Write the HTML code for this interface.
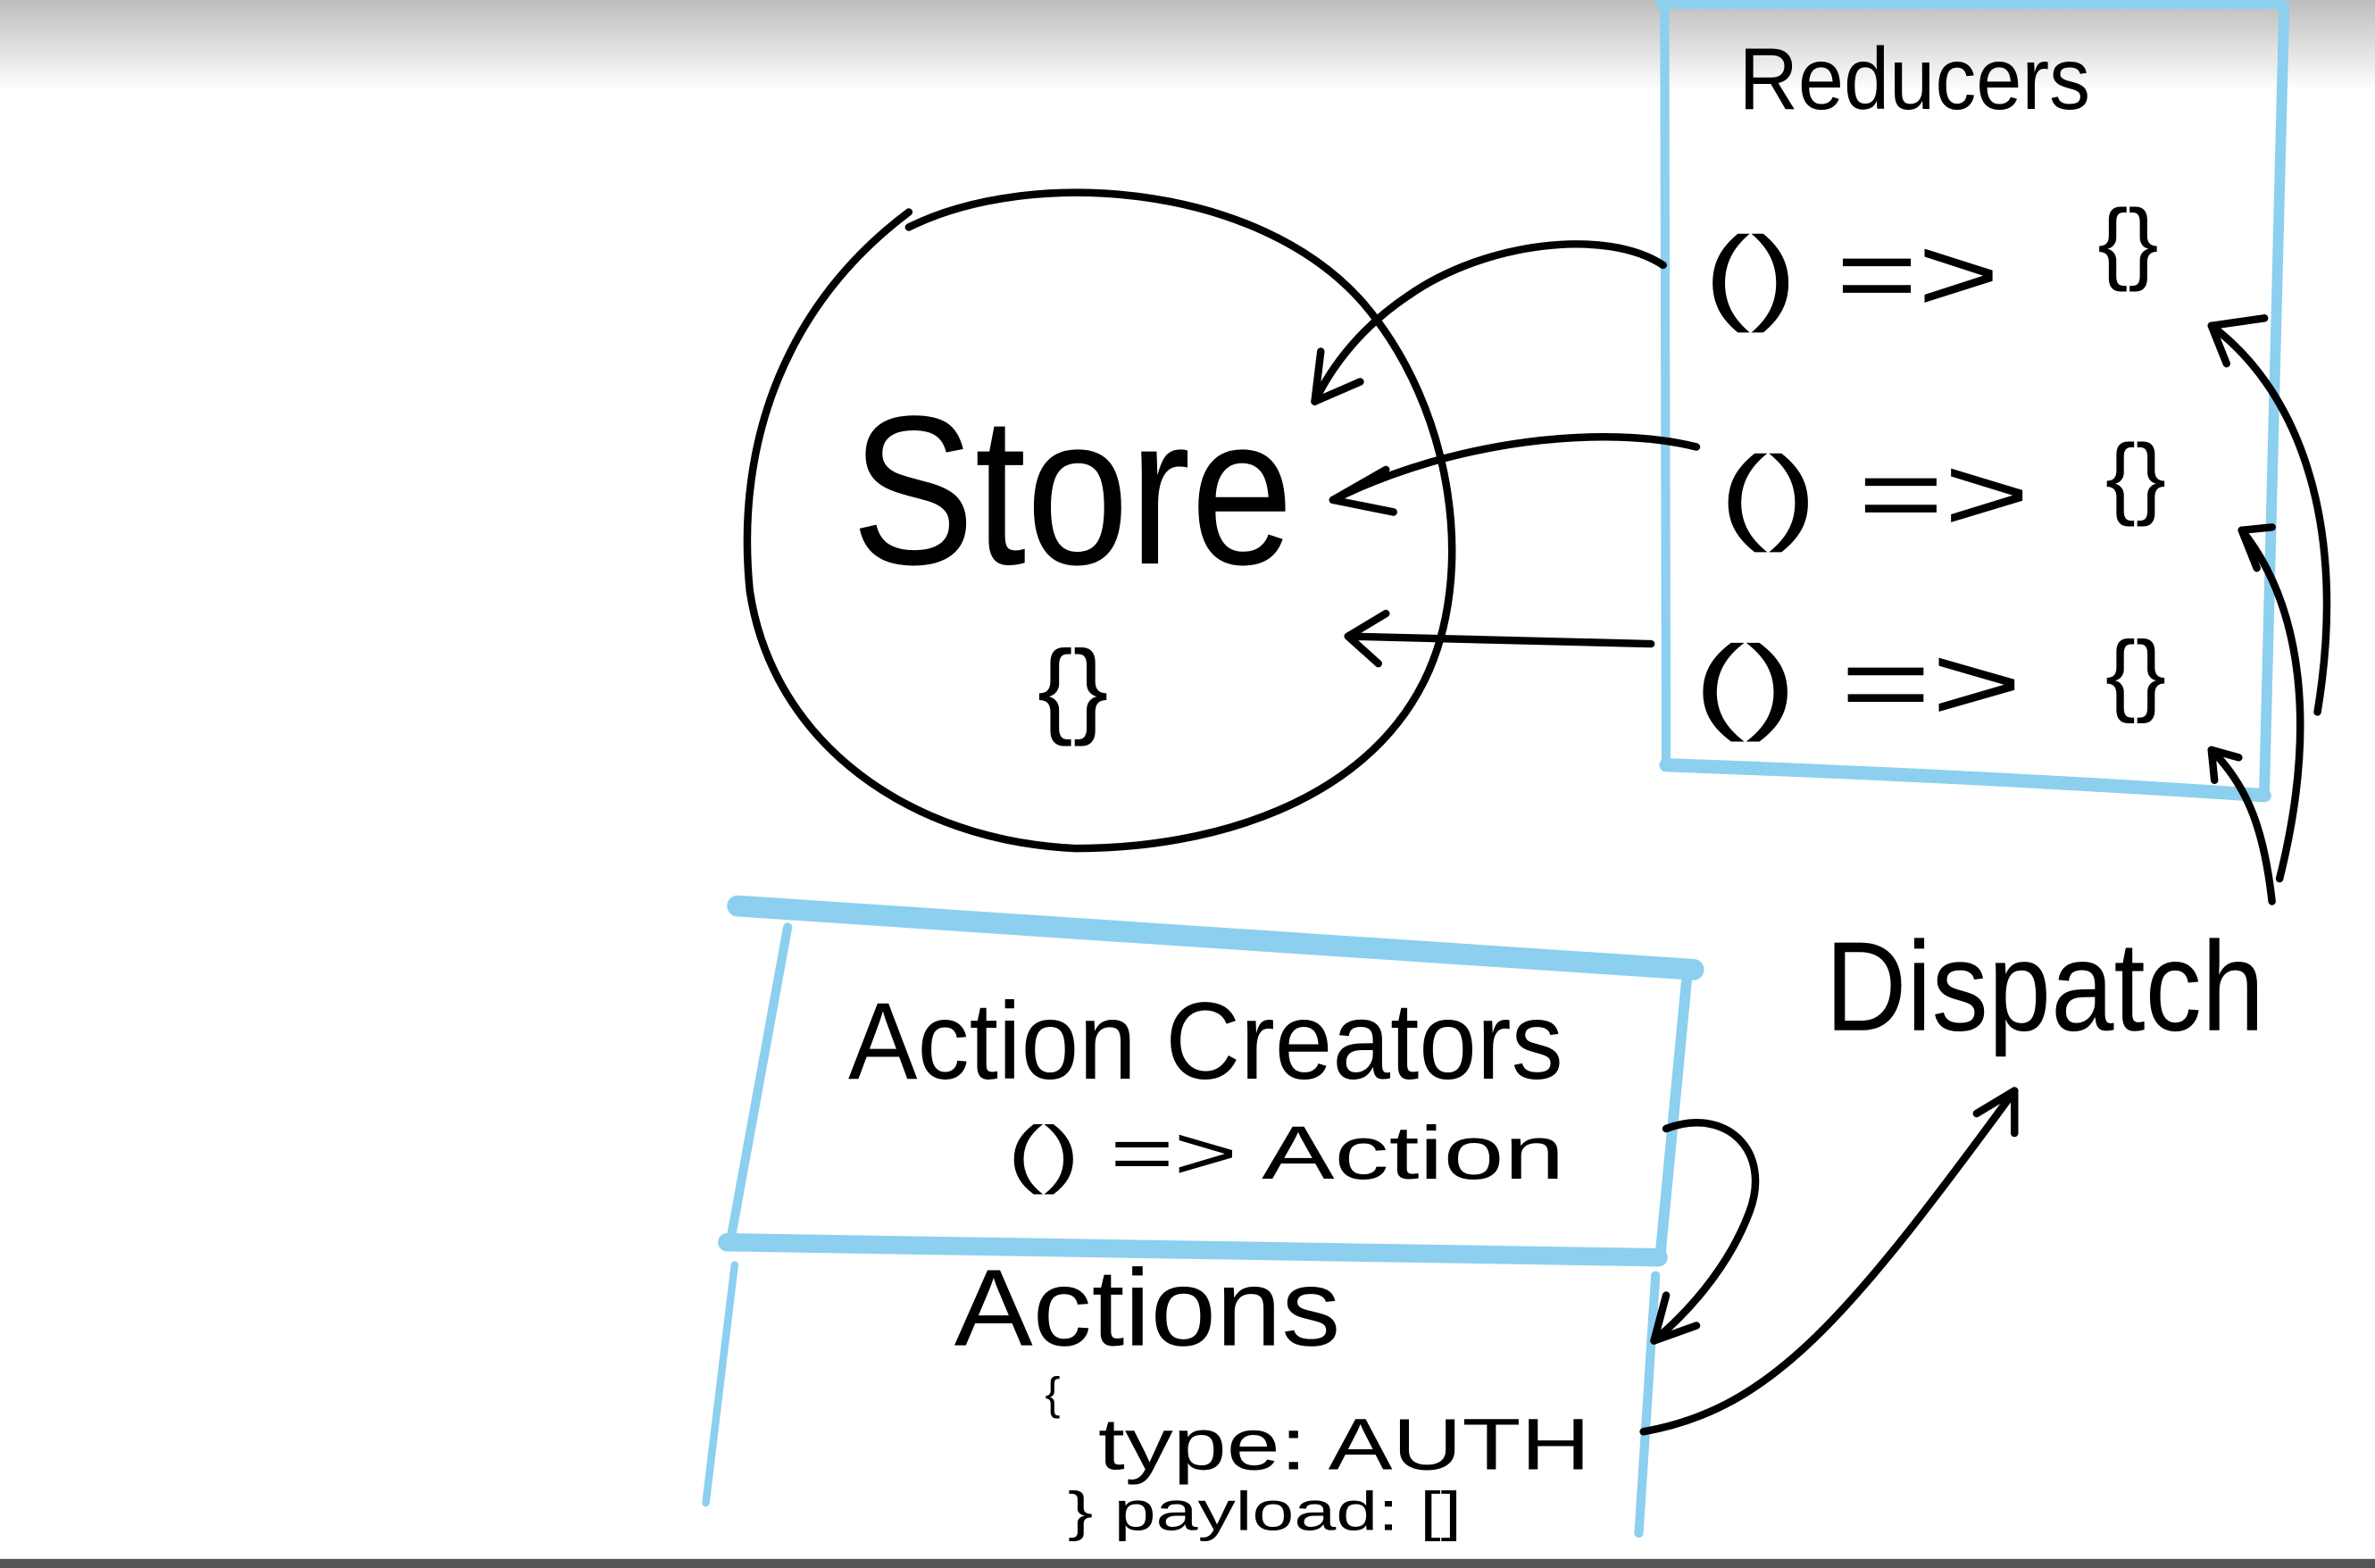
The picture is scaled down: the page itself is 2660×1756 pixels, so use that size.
<!DOCTYPE html>
<html><head><meta charset="utf-8"><style>
html,body{margin:0;padding:0;background:#fff;}
svg{display:block;}
text{font-family:"Liberation Sans",sans-serif;fill:#000;}
</style></head><body>
<svg width="2660" height="1756" viewBox="0 0 1568 1035" preserveAspectRatio="none" xmlns="http://www.w3.org/2000/svg">
<defs>
<linearGradient id="g" x1="0" y1="0" x2="0" y2="1">
<stop offset="0" stop-color="#bdbdbd"/><stop offset="1" stop-color="#ffffff"/>
</linearGradient>
</defs>
<rect width="1568" height="1035" fill="#fff"/>
<rect width="1568" height="60" fill="url(#g)"/>
<rect y="1029" width="1568" height="6" fill="#555"/>

<g fill="none" stroke="#8ccfee" stroke-linecap="round">
<path d="M1097 2 L1505 2" stroke-width="8"/>
<path d="M1099 5 L1100 505" stroke-width="6"/>
<path d="M1508 5 L1495 520" stroke-width="7"/>
<path d="M1100 505 Q1300 512 1495 525" stroke-width="9"/>
<path d="M487 598 L1118 640" stroke-width="14"/>
<path d="M520 612 L483 815" stroke-width="6"/>
<path d="M1114 642 L1096 830" stroke-width="7"/>
<path d="M480 820 L1095 830" stroke-width="12"/>
<path d="M485 835 L466 992" stroke-width="5"/>
<path d="M1093 842 L1082 1012" stroke-width="6"/>
</g>

<g fill="none" stroke="#000" stroke-width="5" stroke-linecap="round">
<path d="M600 150 C680 110 830 120 900 200 C960 270 975 380 940 450 C900 530 800 560 710 560 C600 555 510 490 495 390 C485 290 520 200 600 140"/>
<path d="M1098 175 C1060 150 980 160 930 195 C900 215 880 240 868 265"/>
<path d="M868 265 L872 232 M868 265 L898 252"/>
<path d="M1120 295 C1060 280 960 290 880 330"/>
<path d="M880 330 L915 310 M880 330 L920 338"/>
<path d="M1090 425 L890 420"/>
<path d="M890 420 L915 405 M890 420 L910 438"/>
<path d="M1530 470 C1550 350 1520 260 1460 215"/>
<path d="M1460 215 L1495 210 M1460 215 L1470 240"/>
<path d="M1505 580 C1530 480 1520 400 1480 350"/>
<path d="M1480 350 L1500 348 M1480 350 L1490 375"/>
<path d="M1500 595 C1495 550 1485 520 1460 495"/>
<path d="M1460 495 L1478 500 M1460 495 L1462 515"/>
<path d="M1100 745 C1140 730 1170 760 1155 800 C1140 840 1110 870 1092 885"/>
<path d="M1092 885 L1100 855 M1092 885 L1120 875"/>
<path d="M1085 945 C1170 930 1220 870 1330 720"/>
<path d="M1330 720 L1305 735 M1330 720 L1330 748"/>
</g>

<text x="1148" y="72" font-size="58" textLength="232" lengthAdjust="spacingAndGlyphs">Reducers</text>
<text x="562" y="372" font-size="140" textLength="292" lengthAdjust="spacingAndGlyphs">Store</text>
<text x="685" y="478" font-size="70">{}</text>
<text x="1125" y="205" font-size="70" textLength="195" lengthAdjust="spacingAndGlyphs">() =&gt;</text>
<text x="1385" y="180" font-size="60">{}</text>
<text x="1135" y="350" font-size="70" textLength="205" lengthAdjust="spacingAndGlyphs">() =&gt;</text>
<text x="1390" y="335" font-size="60">{}</text>
<text x="1118" y="475" font-size="70" textLength="217" lengthAdjust="spacingAndGlyphs">() =&gt;</text>
<text x="1390" y="465" font-size="60">{}</text>
<text x="1205" y="680" font-size="84" textLength="290" lengthAdjust="spacingAndGlyphs">Dispatch</text>
<text x="560" y="712" font-size="72" textLength="472" lengthAdjust="spacingAndGlyphs">Action Creators</text>
<text x="665" y="778" font-size="50" textLength="368" lengthAdjust="spacingAndGlyphs">() =&gt; Action</text>
<text x="630" y="888" font-size="72" textLength="255" lengthAdjust="spacingAndGlyphs">Actions</text>
<text x="690" y="930" font-size="30">{</text>
<text x="725" y="970" font-size="48" textLength="325" lengthAdjust="spacingAndGlyphs">type: AUTH</text>
<text x="705" y="1010" font-size="36" textLength="260" lengthAdjust="spacingAndGlyphs">} payload: []</text>
</svg>
</body></html>
